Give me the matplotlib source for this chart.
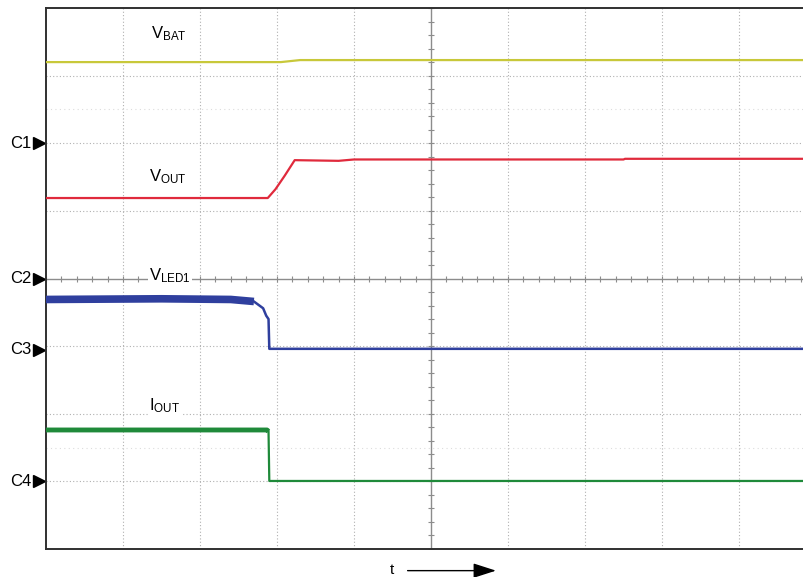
import numpy as np
import matplotlib.pyplot as plt
import matplotlib.transforms as mtransforms

plt.rcParams['font.family'] = ['Liberation Sans', 'DejaVu Sans']
plt.rcParams['mathtext.default'] = 'regular'

# screen in divisions: 10 across, 8 high (0 = bottom)
# trace breakpoints (x div, y div)
vbat_t = [0.0, 3.05, 3.3, 10.0]
vbat_v = [7.20, 7.20, 7.23, 7.23]

vout_t = [0.0, 2.88, 2.98, 3.1, 3.23, 3.8, 4.0, 7.5, 7.52, 10.0]
vout_v = [5.19, 5.19, 5.32, 5.52, 5.75, 5.74, 5.76, 5.76, 5.77, 5.77]

vled_t = [0.0, 1.5, 2.4, 2.7, 2.82, 2.86, 2.89, 2.9, 10.0]
vled_v = [3.69, 3.70, 3.69, 3.66, 3.56, 3.45, 3.40, 2.96, 2.96]

iout_t = [0.0, 2.87, 2.89, 2.9, 10.0]
iout_v = [1.76, 1.76, 1.74, 1.006, 1.006]

channels = ['C1', 'C2', 'C3', 'C4']
channel_lvl = [6.0, 4.0, 2.95, 1.0]

labels = ['V$_{BAT}$', 'V$_{OUT}$', 'V$_{LED1}$', 'I$_{OUT}$']
label_pos = [(1.36, 7.55), (1.34, 5.43), (1.34, 3.97), (1.34, 2.05)]

W, H = 804, 577
fig = plt.figure(figsize=(W / 100, H / 100), dpi=100)
ax = fig.add_axes([46 / W, 28 / H, 770 / W, 541 / H])
ax.set_xlim(0, 10)
ax.set_ylim(0, 8)

# graticule
for gx in range(1, 10):
    if gx != 5:
        ax.axvline(gx, color='#b0b0b0', lw=0.8, ls=(0, (1, 2)), zorder=1)
for gy in range(1, 8):
    if gy != 4:
        ax.axhline(gy, color='#b0b0b0', lw=0.8, ls=(0, (1, 2)), zorder=1)
for gy in [6.5, 1.5]:
    ax.axhline(gy, color='#dcdcdc', lw=0.8, ls=(0, (1, 3)), zorder=1)
ax.axvline(5, color='#8c8c8c', lw=1.0, zorder=1)
ax.axhline(4, color='#8c8c8c', lw=1.0, zorder=1)
mx = np.arange(0, 10.01, 0.2)
my = np.arange(0, 8.01, 0.2)
ax.plot(mx, np.full_like(mx, 4), ls='none', marker='|', ms=5, color='#8c8c8c', mew=0.8, zorder=1)
ax.plot(np.full_like(my, 5), my, ls='none', marker='_', ms=5, color='#8c8c8c', mew=0.8, zorder=1)

# traces
ax.plot(vbat_t, vbat_v, color='#c8c83a', lw=1.6, zorder=3)
ax.plot(vout_t, vout_v, color='#e02a3c', lw=1.6, zorder=3)
ax.plot(vled_t[:4], vled_v[:4], color='#2f3f9e', lw=5.5, solid_capstyle='butt', zorder=3)
ax.plot(vled_t[3:], vled_v[3:], color='#2f3f9e', lw=1.8, zorder=3)
ax.plot(iout_t[:3], iout_v[:3], color='#1f8a3a', lw=3.5, solid_capstyle='butt', zorder=3)
ax.plot(iout_t[2:], iout_v[2:], color='#1f8a3a', lw=1.6, zorder=3)

for lab, (lx, ly) in zip(labels, label_pos):
    ax.text(lx, ly, lab, fontsize=12, ha='left', va='baseline', zorder=4,
            bbox=dict(facecolor='white', edgecolor='none', pad=1.0))

# channel markers on the left
trans = mtransforms.blended_transform_factory(ax.transAxes, ax.transData)
for ch, lv in zip(channels, channel_lvl):
    ax.plot(-0.009, lv, marker='>', color='black', ms=9, transform=trans, clip_on=False)
    ax.text(-0.019, lv, ch, fontsize=12, ha='right', va='center', transform=trans)

# time arrow
ax.annotate('', xy=(0.588, -0.040), xytext=(0.466, -0.040), xycoords='axes fraction',
            arrowprops=dict(arrowstyle='-|>,head_length=1.4,head_width=0.45', color='black', lw=1.0),
            annotation_clip=False)
ax.text(0.449, -0.039, 't', fontsize=11, ha='center', va='center', transform=ax.transAxes)

ax.set_xticks([])
ax.set_yticks([])
for s in ['left', 'top', 'bottom']:
    ax.spines[s].set_color('#303030')
    ax.spines[s].set_linewidth(1.4)
ax.spines['right'].set_visible(False)

fig.savefig('out.png', dpi=100)
